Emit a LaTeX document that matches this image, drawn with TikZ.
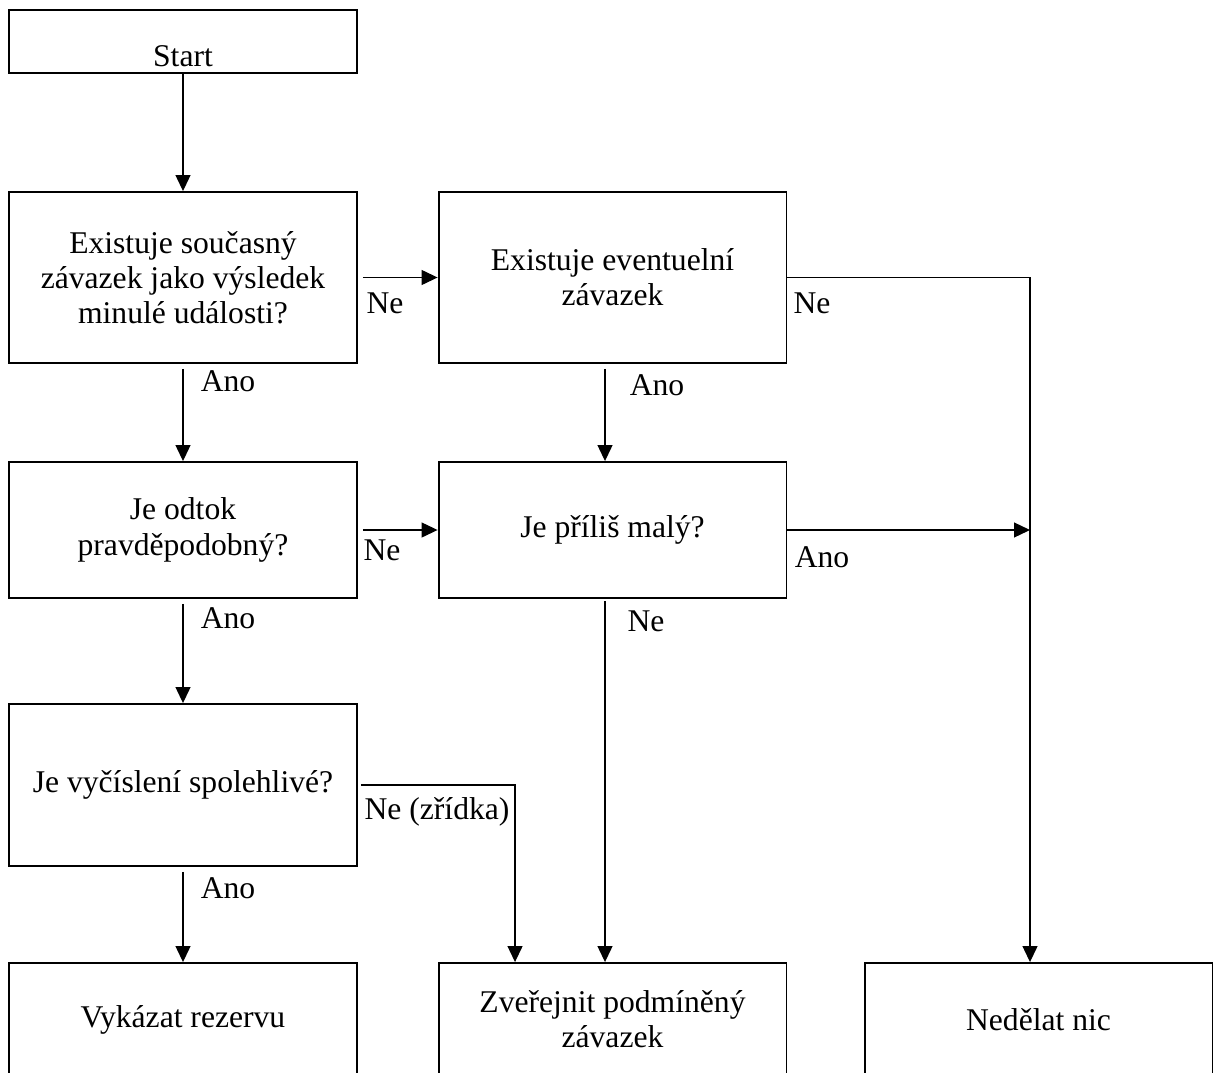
\documentclass[tikz,border=0pt]{standalone}
\usepackage{fontspec}
\setmainfont{Liberation Serif}
\usepackage{tikz}
\usetikzlibrary{arrows.meta}
\usetikzlibrary{positioning}

\begin{document}
\begin{tikzpicture}
		[x=0.02cm,y=-0.02cm,
		every node/.style={font=\fontsize{18}{20}\selectfont},
		box/.style={draw,line width=1.1pt,minimum width=6.96cm,align=center,inner sep=0pt},
		lbl/.style={inner sep=0pt},
		link/.style={line width=0.7pt,-{Triangle[length=0.32cm,width=0.3cm]}}]
		\useasboundingbox (0,0) rectangle (1214,1072);
		\clip (0,0) rectangle (1214,1072);
		
		\node[box,minimum height=1.26cm,text height=1cm,text depth=0pt] (start) at (183,41.5) {Start};
		\node[box,minimum height=3.42cm] (q1) at (183,277.5) {Existuje současný\\závazek jako výsledek\\minulé události?};
		\node[box,minimum height=3.42cm] (q2) at (612.5,277.5) {Existuje eventuelní\\závazek};
		\node[box,minimum height=2.72cm] (q3) at (183,530) {Je odtok\\pravděpodobný?};
		\node[box,minimum height=2.72cm] (q4) at (612.5,530) {Je příliš malý?};
		\node[box,minimum height=3.24cm] (q5) at (183,785) {Je vyčíslení spolehlivé?};
		\node[box,minimum height=2.26cm] (r1) at (183,1019.5) {Vykázat rezervu};
		\node[box,minimum height=2.26cm] (r2) at (612.5,1019.5) {Zveřejnit podmíněný\\závazek};
		\node[box,minimum height=2.26cm] (r3) at (1038.5,1019.5) {Nedělat nic};
		
		\coordinate (t3) at ([xshift=-0.17cm]r3.north);
		\coordinate (t2) at ([xshift=-1.95cm]r2.north);
		
		\draw[link] (start) -- (q1);
		\foreach \from/\to in 
		{q1/q3, q3/q5, q5/r1, q1/q2, q3/q4}
		\draw[link,shorten <=0.1cm] (\from) -- (\to);
		\draw[link,shorten <=0.1cm] ([xshift=-0.15cm]q2.south) -- ([xshift=-0.15cm]q4.north);
		\draw[link,shorten <=0.05cm] ([xshift=-0.15cm]q4.south) -- ([xshift=-0.15cm]r2.north);
		\draw[link] (q2.east) -| (t3);
		\draw[link] (q4.east) -- (q4.east -| t3);
		\draw[link,shorten <=0.06cm] (q5.east) -| (t2);
		
		\node[lbl] (a1) at (228,381) {Ano};
		\node[lbl] (n1) at (385,303) {Ne};
		\node[lbl] (n2) at (812,303) {Ne};
		\node[lbl] (a2) at (657,385) {Ano};
		\node[lbl] (n3) at (382,550) {Ne};
		\node[lbl] (a4) at (822,557) {Ano};
		\node[lbl] (a3) at (228,618) {Ano};
		\node[lbl] (n4) at (646,621) {Ne};
		\node[lbl] (n5) at (437,812) {Ne (zřídka)};
		\node[lbl] (a5) at (228,888) {Ano};
		\end{tikzpicture}
\end{document}
